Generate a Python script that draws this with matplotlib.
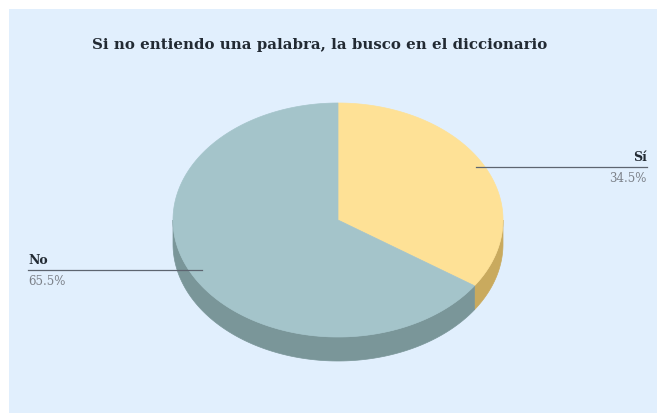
import numpy as np
import matplotlib
matplotlib.use("Agg")
import matplotlib.pyplot as plt
from matplotlib.patches import Polygon, Rectangle

# Survey answers
categories = ["Sí", "No"]
shares = [34.5, 65.5]
face_colors = ["#fee196", "#a4c4ca"]
side_colors = ["#c9aa5e", "#7a9699"]

W, H = 657, 414
fig = plt.figure(figsize=(W / 100, H / 100), dpi=100)
fig.patch.set_facecolor("white")
ax = fig.add_axes([0, 0, 1, 1])
ax.set_xlim(0, W)
ax.set_ylim(H, 0)
ax.axis("off")

# Chart panel background
ax.add_patch(Rectangle((9, 10), W - 9, H - 10, facecolor="#e1effd", edgecolor="none", zorder=0))

ax.text(320, 45, "Si no entiendo una palabra, la busco en el diccionario",
        ha="center", va="center", fontsize=10.8, fontweight="bold",
        family="DejaVu Serif", color="#222a33")

# Tilted pie geometry (pixel units)
cx, cy, rx, ry, depth = 338, 221, 165, 117, 24


def pt(phi_deg, dy=0.0):
    p = np.radians(phi_deg)
    return cx + rx * np.sin(p), cy - ry * np.cos(p) + dy


bounds = np.concatenate([[0], np.cumsum(shares)]) * 3.6

# Visible side walls (front half of the disc: 90..270 degrees)
for i in range(len(shares)):
    a0, a1 = max(bounds[i], 90), min(bounds[i + 1], 270)
    if a1 <= a0:
        continue
    phis = np.linspace(a0, a1, 120)
    top = [pt(p) for p in phis]
    bot = [pt(p, depth) for p in phis[::-1]]
    ax.add_patch(Polygon(top + bot, closed=True, facecolor=side_colors[i],
                         edgecolor=side_colors[i], lw=0.5, zorder=2))

# Top faces
for i in range(len(shares)):
    phis = np.linspace(bounds[i], bounds[i + 1], 240)
    verts = [(cx, cy)] + [pt(p) for p in phis]
    ax.add_patch(Polygon(verts, closed=True, facecolor=face_colors[i],
                         edgecolor=face_colors[i], lw=0.5, zorder=3))

# Leader lines and labels
label_specs = [
    dict(x0=476, y=168, x1=647, ha="right"),
    dict(x0=202, y=271, x1=28, ha="left"),
]
for i, spec in enumerate(label_specs):
    ax.plot([spec["x0"], spec["x1"]], [spec["y"], spec["y"]], color="#5d6570", lw=0.9, zorder=4)
    ax.text(spec["x1"], spec["y"] - 4, categories[i], ha=spec["ha"], va="bottom",
            fontsize=9, fontweight="bold", family="DejaVu Serif", color="#222a33", zorder=5)
    ax.text(spec["x1"], spec["y"] + 4, f"{shares[i]:.1f}%", ha=spec["ha"], va="top",
            fontsize=8.5, family="DejaVu Serif", color="#7b8088", zorder=5)

fig.savefig("out.png", dpi=100, facecolor=fig.get_facecolor())
